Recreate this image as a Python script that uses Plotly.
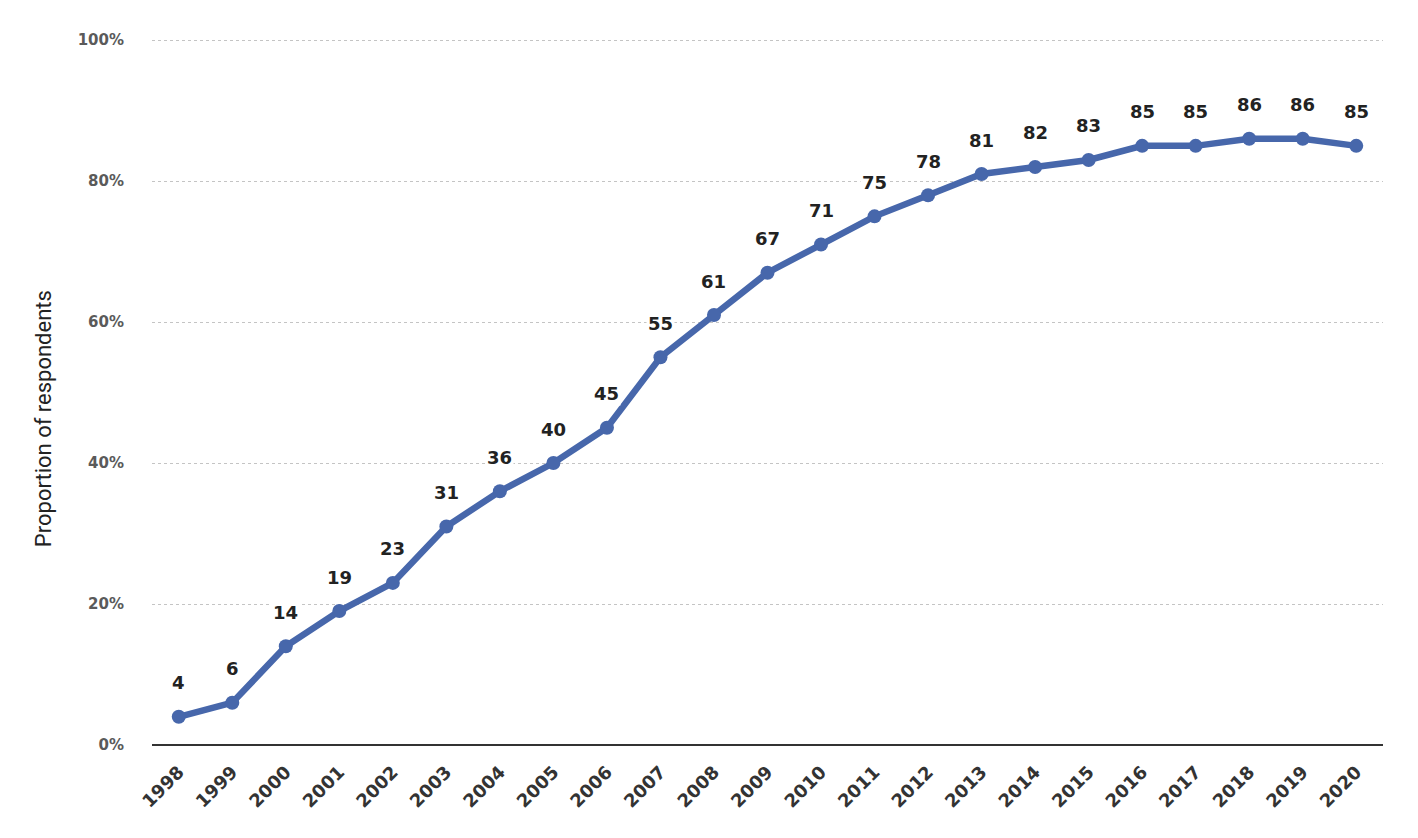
import plotly.graph_objects as go

# Share of respondents by survey year
years = [str(y) for y in range(1998, 2021)]
values = [4, 6, 14, 19, 23, 31, 36, 40, 45, 55, 61, 67, 71, 75, 78, 81, 82, 83, 85, 85, 86, 86, 85]

y_ticks = [0, 20, 40, 60, 80, 100]
y_tick_text = ["0%", "20%", "40%", "60%", "80%", "100%"]

LINE_COLOR = "#4767ab"

fig = go.Figure()
fig.add_trace(go.Scatter(
    x=years,
    y=values,
    mode="lines+markers",
    line=dict(color=LINE_COLOR, width=6.5),
    marker=dict(color=LINE_COLOR, size=14),
    hoverinfo="x+y",
    showlegend=False,
))

# value labels above each point (white box hides the gridline behind)
for i, v in enumerate(values):
    fig.add_annotation(
        xref="x", yref="y", x=i, y=v, text="<b>%d</b>" % v, showarrow=False,
        yshift=34, bgcolor="white", borderpad=1,
        font=dict(family="DejaVu Sans", size=18, color="#222222"),
    )

# y title sits centred on the page, not on the plot area
fig.add_annotation(
    xref="paper", yref="paper", x=-0.0885, y=0.461,
    text="Proportion of respondents", textangle=-90, showarrow=False,
    xanchor="center", yanchor="middle",
    font=dict(family="Roboto", size=22, color="#222222"),
)

# page body has an 8px margin, so margins are pulled in to compensate
fig.update_layout(
    width=1418,
    height=838,
    margin=dict(l=144, r=43, t=30, b=101),
    plot_bgcolor="white",
    paper_bgcolor="white",
    font=dict(family="DejaVu Sans", color="#444444"),
)
fig.update_xaxes(
    type="category",
    range=[-0.5, 22.5],
    tickangle=-45,
    tickfont=dict(family="DejaVu Sans", size=18, color="#333333", weight="bold"),
    ticklabelstandoff=12,
    showgrid=False,
    showline=False,
    ticks="",
)
fig.update_yaxes(
    range=[0, 100.3],
    tickvals=y_ticks,
    ticktext=y_tick_text,
    tickfont=dict(family="DejaVu Sans", size=15, color="#5a5a5a", weight="bold"),
    ticklabelstandoff=27,
    showgrid=True,
    gridcolor="#c4c4c4",
    griddash="dot",
    gridwidth=1,
    zeroline=True,
    zerolinecolor="#333333",
    zerolinewidth=2,
    ticks="",
)

fig.write_html("out.html")
